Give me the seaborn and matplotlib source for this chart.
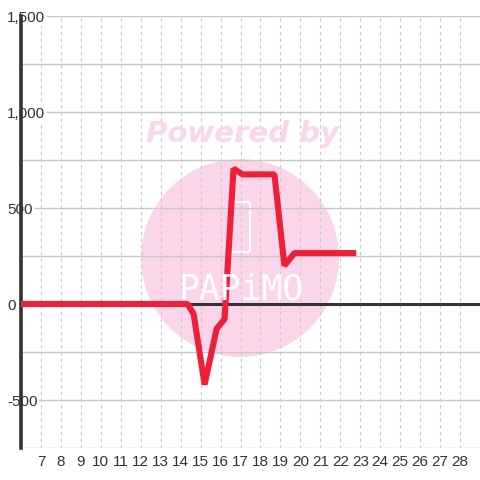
import matplotlib
matplotlib.use("Agg")
import matplotlib.pyplot as plt
import seaborn as sns
import pandas as pd
from matplotlib.patches import Circle, FancyBboxPatch
from matplotlib.ticker import FixedLocator, MultipleLocator, FuncFormatter

# ---- data ----
x_vals = [6, 14.35, 14.65, 15.2, 15.8, 16.2, 16.65, 17.1, 18.7, 19.2, 19.7, 22.8]
y_vals = [0, 0, -52, -420, -130, -78, 705, 675, 675, 200, 265, 265]
x_tick_labels = [str(v) for v in range(7, 29)]
y_tick_values = [-500, 0, 500, 1000, 1500]

df = pd.DataFrame({"x": x_vals, "y": y_vals})

sns.set_style("white")
plt.rcParams["font.family"] = ["Liberation Sans", "DejaVu Sans"]

fig = plt.figure(figsize=(4.8, 4.8), dpi=100)
fig.patch.set_facecolor("white")
ax = fig.add_axes([21 / 480, 32 / 480, 459 / 480, 432 / 480])
ax.set_facecolor("white")

# watermark
circ = Circle((240 / 480, 1 - 258 / 480), 99 / 480, transform=fig.transFigure,
              facecolor="#fbd6eb", edgecolor="none", zorder=0.1)
ax.add_patch(circ)
icon = FancyBboxPatch((231 / 480, 1 - 252 / 480), 19 / 480, 50 / 480,
                      boxstyle="round,pad=0,rounding_size=0.006",
                      transform=fig.transFigure, facecolor="none",
                      edgecolor="white", lw=1.5, zorder=0.2)
ax.add_patch(icon)
fig.text(241 / 480, 1 - 289 / 480, "PAPiMO", color="white", fontsize=25,
         ha="center", va="center", family="DejaVu Sans Mono",
         fontweight="light", zorder=0.2)
fig.text(242 / 480, 1 - 134 / 480, "Powered by", color="#fbd6eb", fontsize=21,
         fontweight="bold", fontstyle="italic", ha="center", va="center",
         family="DejaVu Sans")

sns.lineplot(data=df, x="x", y="y", ax=ax, color="#ee2038", linewidth=4.4,
             zorder=5, solid_joinstyle="bevel", solid_capstyle="butt")

ax.axhline(0, color="#333333", linewidth=2.2, zorder=3)

ax.set_xlim(6, 29)
ax.set_ylim(-750, 1500)

ax.xaxis.set_major_locator(FixedLocator([int(t) for t in x_tick_labels]))
ax.set_xticklabels(x_tick_labels)
ax.yaxis.set_major_locator(FixedLocator(y_tick_values))
ax.yaxis.set_minor_locator(MultipleLocator(250))
ax.yaxis.set_major_formatter(FuncFormatter(lambda v, p: f"{int(v):,}"))

ax.set_axisbelow(True)
ax.grid(axis="x", which="major", color="#c8c8c8", linestyle=(0, (3, 3)), linewidth=0.8)
ax.grid(axis="y", which="both", color="#c8c8c8", linestyle="-", linewidth=1.0)

for s in ["top", "right", "bottom"]:
    ax.spines[s].set_visible(False)
ax.spines["left"].set_color("#333333")
ax.spines["left"].set_linewidth(2.6)
ax.spines["left"].set_zorder(4)

ax.tick_params(axis="x", length=0, pad=5, labelsize=11, labelcolor="#333333")
ax.tick_params(axis="y", which="both", length=0, pad=10, labelsize=11,
               labelcolor="#333333")
for lbl in ax.get_yticklabels():
    lbl.set_horizontalalignment("left")
    lbl.set_bbox(dict(facecolor="white", edgecolor="none", pad=1.0))
    lbl.set_zorder(6)
ax.set_xlabel("")
ax.set_ylabel("")

fig.savefig("out.png", dpi=100)
